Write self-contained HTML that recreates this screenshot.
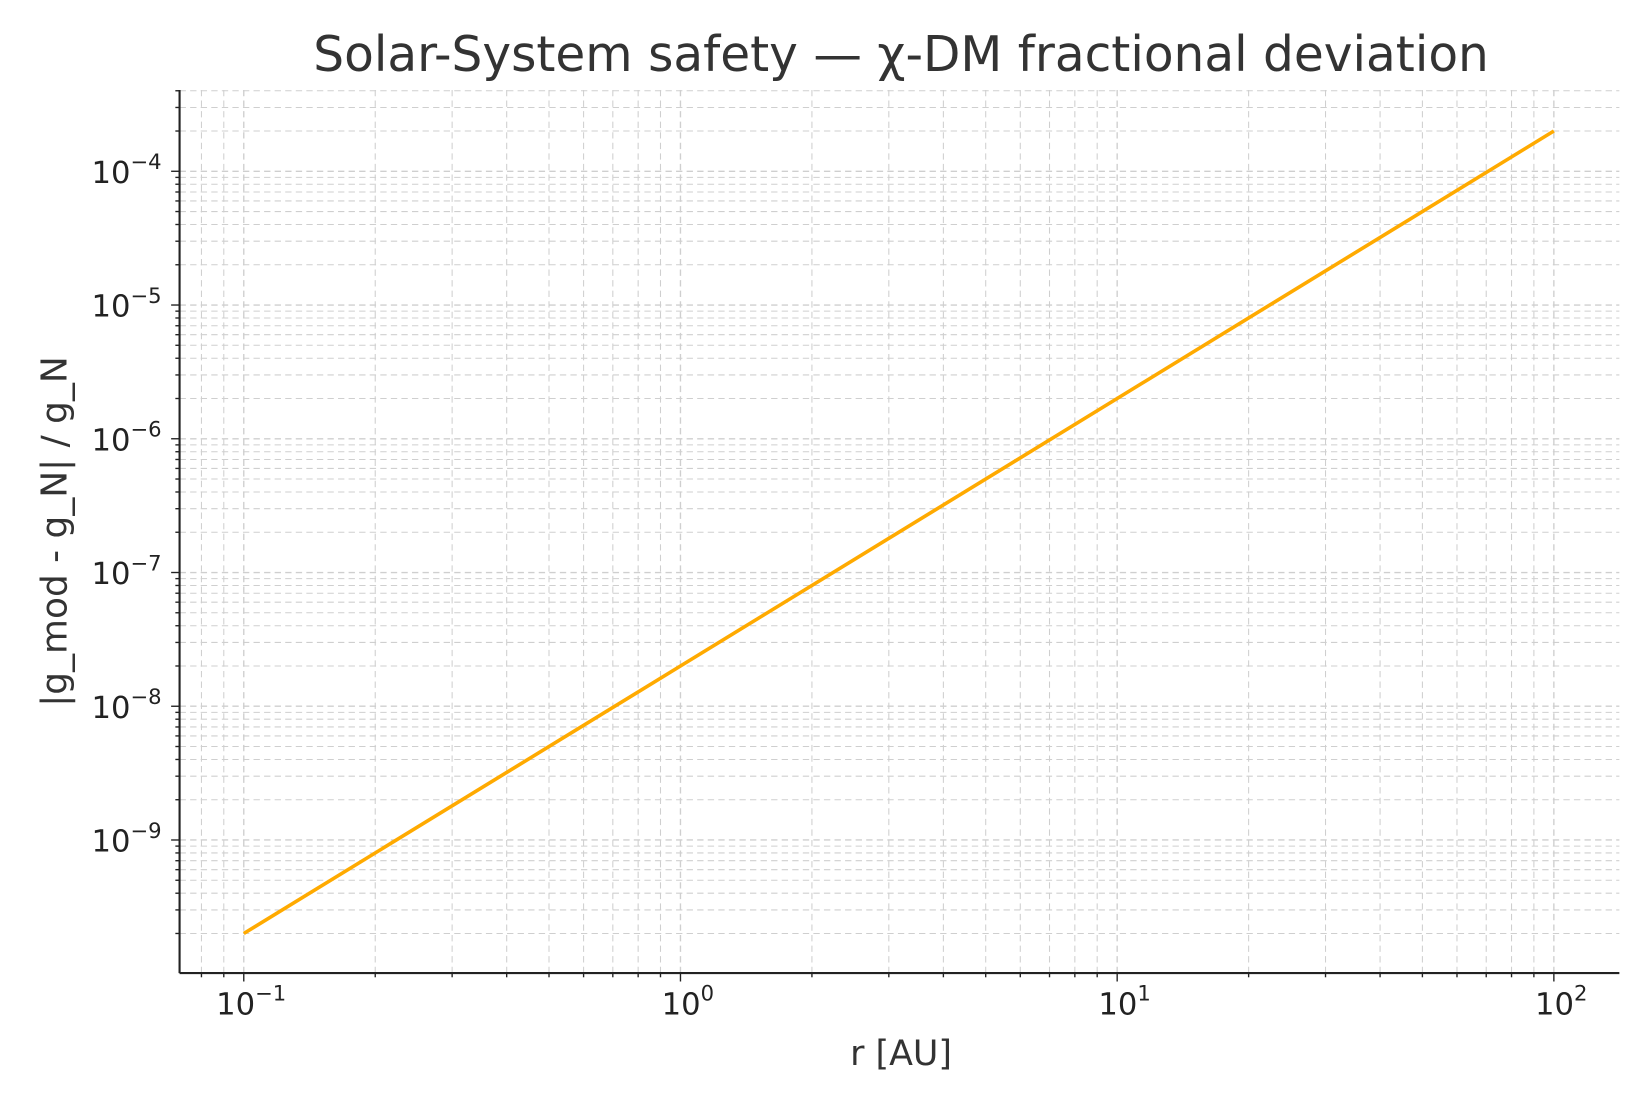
<!DOCTYPE html>
<html><head><meta charset="utf-8"><style>
body{margin:0;background:#fff}
svg{display:block;font-family:"DejaVu Sans","Liberation Sans",sans-serif}
</style></head><body>
<svg id="chart" width="1650" height="1100" viewBox="0 0 1562 1041">
<text x="853" y="67" font-size="46" fill="#333" text-anchor="middle">Solar-System safety — χ-DM fractional deviation</text>
<g id="grid"></g>
<g id="series"></g>
<g id="axes"></g>
<text x="853" y="1008" font-size="33" fill="#333" text-anchor="middle">r [AU]</text>
<text transform="translate(63,503) rotate(-90)" font-size="34" fill="#333" text-anchor="middle">|g_mod - g_N| / g_N</text>
</svg>
<script>
const rValues=[0.1,1,10,100];
const devValues=[2e-10,2e-8,2e-6,2e-4];
const xTickExps=[-1,0,1,2];
const yTickExps=[-9,-8,-7,-6,-5,-4];
const X0=170,X1=1533,Y0=85,Y1=921;
const xMin=-1.147,xMax=2.15,yMin=-9.995,yMax=-3.392;
const xs=v=>X0+(Math.log10(v)-xMin)/(xMax-xMin)*(X1-X0);
const ys=v=>Y1-(Math.log10(v)-yMin)/(yMax-yMin)*(Y1-Y0);
const NS="http://www.w3.org/2000/svg";
function mk(t,a,p){const e=document.createElementNS(NS,t);for(const k in a)e.setAttribute(k,a[k]);p.appendChild(e);return e;}
const grid=document.getElementById('grid'),axes=document.getElementById('axes'),series=document.getElementById('series');
for(let d=-2;d<=2;d++)for(let m=1;m<10;m++){const v=m*Math.pow(10,d);const x=xs(v);if(x<X0||x>X1)continue;
 const l=mk('line',{x1:x,x2:x,y1:Y0,y2:Y1,stroke:'#cfcfcf','stroke-width':m==1?1.3:1,'stroke-dasharray':'6,4'},grid);
 
 
 const t=mk('line',{x1:x,x2:x,y1:Y1,y2:Y1+(m==1?8:4),stroke:'#222','stroke-width':1.3},axes);
 
 }
for(let d=-10;d<=-3;d++)for(let m=1;m<10;m++){const v=m*Math.pow(10,d);const y=ys(v);if(y<Y0||y>Y1)continue;
 const l=mk('line',{x1:X0,x2:X1,y1:y,y2:y,stroke:'#cfcfcf','stroke-width':m==1?1.3:1,'stroke-dasharray':'6,4'},grid);
 
 
 const t=mk('line',{x1:X0-(m==1?8:4),x2:X0,y1:y,y2:y,stroke:'#222','stroke-width':1.3},axes);
 
 }
const sp1=mk('line',{x1:X0,x2:X0,y1:Y0,y2:Y1,stroke:'#222','stroke-width':2},axes);


const sp2=mk('line',{x1:X0,x2:X1,y1:Y1,y2:Y1,stroke:'#222','stroke-width':2},axes);


xTickExps.forEach(e=>{const t=mk('text',{x:xs(Math.pow(10,e))+7,y:960,'font-size':29,fill:'#222','text-anchor':'middle'},axes);
 
 
 t.innerHTML='10<tspan dy="-13" font-size="20">'+(e<0?'−'+(-e):e)+'</tspan>';});
yTickExps.forEach(e=>{const t=mk('text',{x:153,y:ys(Math.pow(10,e))+11,'font-size':29,fill:'#222','text-anchor':'end'},axes);
 
 
 t.innerHTML='10<tspan dy="-13" font-size="20">−'+(-e)+'</tspan>';});
const pts=rValues.map((r,i)=>xs(r)+','+ys(devValues[i])).join(' ');
const pl=mk('polyline',{points:pts,fill:'none',stroke:'#ffaa00','stroke-width':3.4},series);


</script>
</body></html>
